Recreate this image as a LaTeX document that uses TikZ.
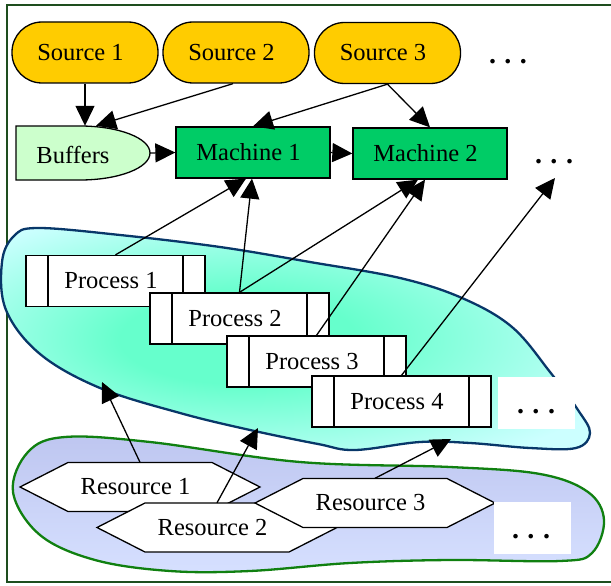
\documentclass[tikz,border=0pt]{standalone}
\usepackage{fontspec}
\setmainfont{Liberation Serif}
\newfontfamily\diaserif{Liberation Serif}
\usetikzlibrary{arrows.meta}

\definecolor{srcgold}{RGB}{255,204,0}
\definecolor{bufgreen}{RGB}{204,255,204}
\definecolor{machgreen}{RGB}{0,204,102}
\definecolor{framegreen}{RGB}{30,78,30}
\definecolor{poolline}{RGB}{8,55,105}
\definecolor{resline}{RGB}{16,128,16}
\definecolor{aquacore}{RGB}{102,255,204}
\definecolor{aquaedge}{RGB}{204,255,255}
\definecolor{resfillA}{RGB}{190,198,240}
\definecolor{resfillB}{RGB}{214,224,255}

\pgfdeclareradialshading{poolshade}{\pgfpoint{-6bp}{0bp}}{%
  color(0bp)=(aquacore); color(10bp)=(aquacore);
  color(32bp)=(aquaedge); color(50bp)=(aquaedge)}

\newcommand{\diafont}{\diaserif\fontsize{24.5}{29}\selectfont}
\newcommand{\dotfont}{\diaserif\bfseries\fontsize{28}{30}\selectfont}

\tikzset{
  boxtext/.style={inner sep=0pt, font=\diafont, execute at end node=\hspace*{9pt}},
  src/.style={boxtext, draw, line width=1.3pt, fill=srcgold, rounded corners=30pt,
    minimum width=146pt, minimum height=61pt},
  mach/.style={boxtext, draw, line width=1.3pt, fill=machgreen,
    minimum width=154pt, minimum height=51pt},
  proc/.style={boxtext, draw, line width=1.3pt, fill=white,
    minimum width=179pt, minimum height=51pt,
    path picture={\draw[line width=1.3pt]
      ([xshift=22pt]path picture bounding box.north west) --
      ([xshift=22pt]path picture bounding box.south west)
      ([xshift=-22pt]path picture bounding box.north east) --
      ([xshift=-22pt]path picture bounding box.south east);}},
  restext/.style={boxtext, minimum width=240pt, minimum height=49pt},
  hexline/.style={draw, line width=1.3pt, fill=white},
  plaintext/.style={inner sep=0pt, font=\diafont},
  dotstext/.style={inner sep=0pt, font=\dotfont},
  dotbox/.style={fill=white, minimum width=77pt, minimum height=52pt, inner sep=0pt},
  flow/.style={line width=1.3pt, -{Triangle[length=20pt,width=19pt]}},
}

% hexagonal resource: name, centre x, centre y, text
\newcommand{\reshex}[4]{%
  \path[hexline] (#2-120,#3) -- (#2-72,#3-24.5) -- (#2+72,#3-24.5) --
    (#2+120,#3) -- (#2+72,#3+24.5) -- (#2-72,#3+24.5) -- cycle;
  \node[restext] (#1) at (#2,#3) {#4};}

\newcommand{\threedots}{.\hspace{8.5pt}.\hspace{8.5pt}.}

\begin{document}
\begin{tikzpicture}[x=1pt, y=-1pt]
\useasboundingbox (0,0) rectangle (611,586);

% outer frame (open on the right)
\draw[framegreen, line width=2.5pt] (611,5) -- (7,5) -- (7,582) -- (611,582);

% process pool
\path[shade, shading=poolshade, draw=poolline, line width=2.3pt]
  plot[smooth cycle, tension=0.6] coordinates {
  (14,236) (38,228) (120,235) (220,247) (310,262) (400,278) (462,298)
  (512,327) (550,372) (578,410) (590,433) (576,448) (530,448) (470,443)
  (420,442) (355,450) (318,444) (250,430) (180,413) (100,388) (40,354)
  (6,310) (2,262)};

% resource pool
\path[shade, top color=resfillA, bottom color=resfillB, draw=resline, line width=2.3pt]
  plot[smooth cycle, tension=0.6] coordinates {
  (13,492) (28,452) (65,437) (150,442) (300,462) (450,467) (540,474)
  (588,492) (604,520) (592,553) (560,561) (450,560) (350,563) (250,571)
  (170,571) (95,560) (40,535)};

% sources
\node[src] (S1) at (85,52.5) {Source 1};
\node[src] (S2) at (236,52.5) {Source 2};
\node[src] (S3) at (387.5,53) {Source 3};
\node[dotstext] (dtop) at (508,62) {\threedots};

% buffers
\path[draw, line width=1.3pt, fill=bufgreen] (16,126) -- (80,126)
  arc[start angle=-90, end angle=90, x radius=70, y radius=27] -- (16,180) -- cycle;
\node[minimum width=134pt, minimum height=54pt, inner sep=0pt] (buf) at (83,153) {};
\node[plaintext] (buftext) at (73,155) {Buffers};

% machines
\node[mach] (M1) at (253,152.5) {Machine 1};
\node[mach] (M2) at (430,153.5) {Machine 2};
\node[dotstext] (dmach) at (554,162) {\threedots};
\coordinate (mfree) at (555,178);

% processes
\node[proc] (P1) at (115.5,281) {Process 1};
\node[proc] (P2) at (239.5,318.5) {Process 2};
\node[proc] (P3) at (316.5,361.5) {Process 3};
\node[proc] (P4) at (401.5,401.5) {Process 4};
\node[dotbox] (pbox) at (536.5,403) {};
\node[dotstext] (dproc) at (536,412) {\threedots};

% resources
\reshex{R1}{140}{487}{Resource 1}
\reshex{R2}{217}{527.5}{Resource 2}
\reshex{R3}{375}{503}{Resource 3}
\node[dotbox] (rbox) at (532.5,528) {};
\node[dotstext] (dres) at (531,537) {\threedots};

\coordinate (r1to) at (102,382);
\coordinate (r2to) at (258,428);
\coordinate (r3to) at (451,439);

% connectors
\draw[flow] (S1.south) -- ([xshift=2pt]buf.north);
\draw[flow] ([xshift=-3pt]S2.south) -- ([xshift=13pt]buf.north);
\draw[flow] (S3.south) -- (M1.north);
\draw[flow] (S3.south) -- (M2.north);
\draw[flow] (buf.east) -- (M1.west);
\draw[flow] (M1.east) -- (M2.west);

\draw[flow] (P1.north) -- ([xshift=-7pt]M1.south);
\draw[flow] (P2.north) -- ([xshift=-1pt]M1.south);
\draw[flow] (P2.north) -- ([xshift=-12pt]M2.south);
\draw[flow] (P3.north) -- ([xshift=-5pt]M2.south);
\draw[flow] (P4.north) -- (mfree);

\draw[flow] (R1.north) -- (r1to);
\draw[flow] (R2.north) -- (r2to);
\draw[flow] (R3.north) -- (r3to);
\end{tikzpicture}
\end{document}
